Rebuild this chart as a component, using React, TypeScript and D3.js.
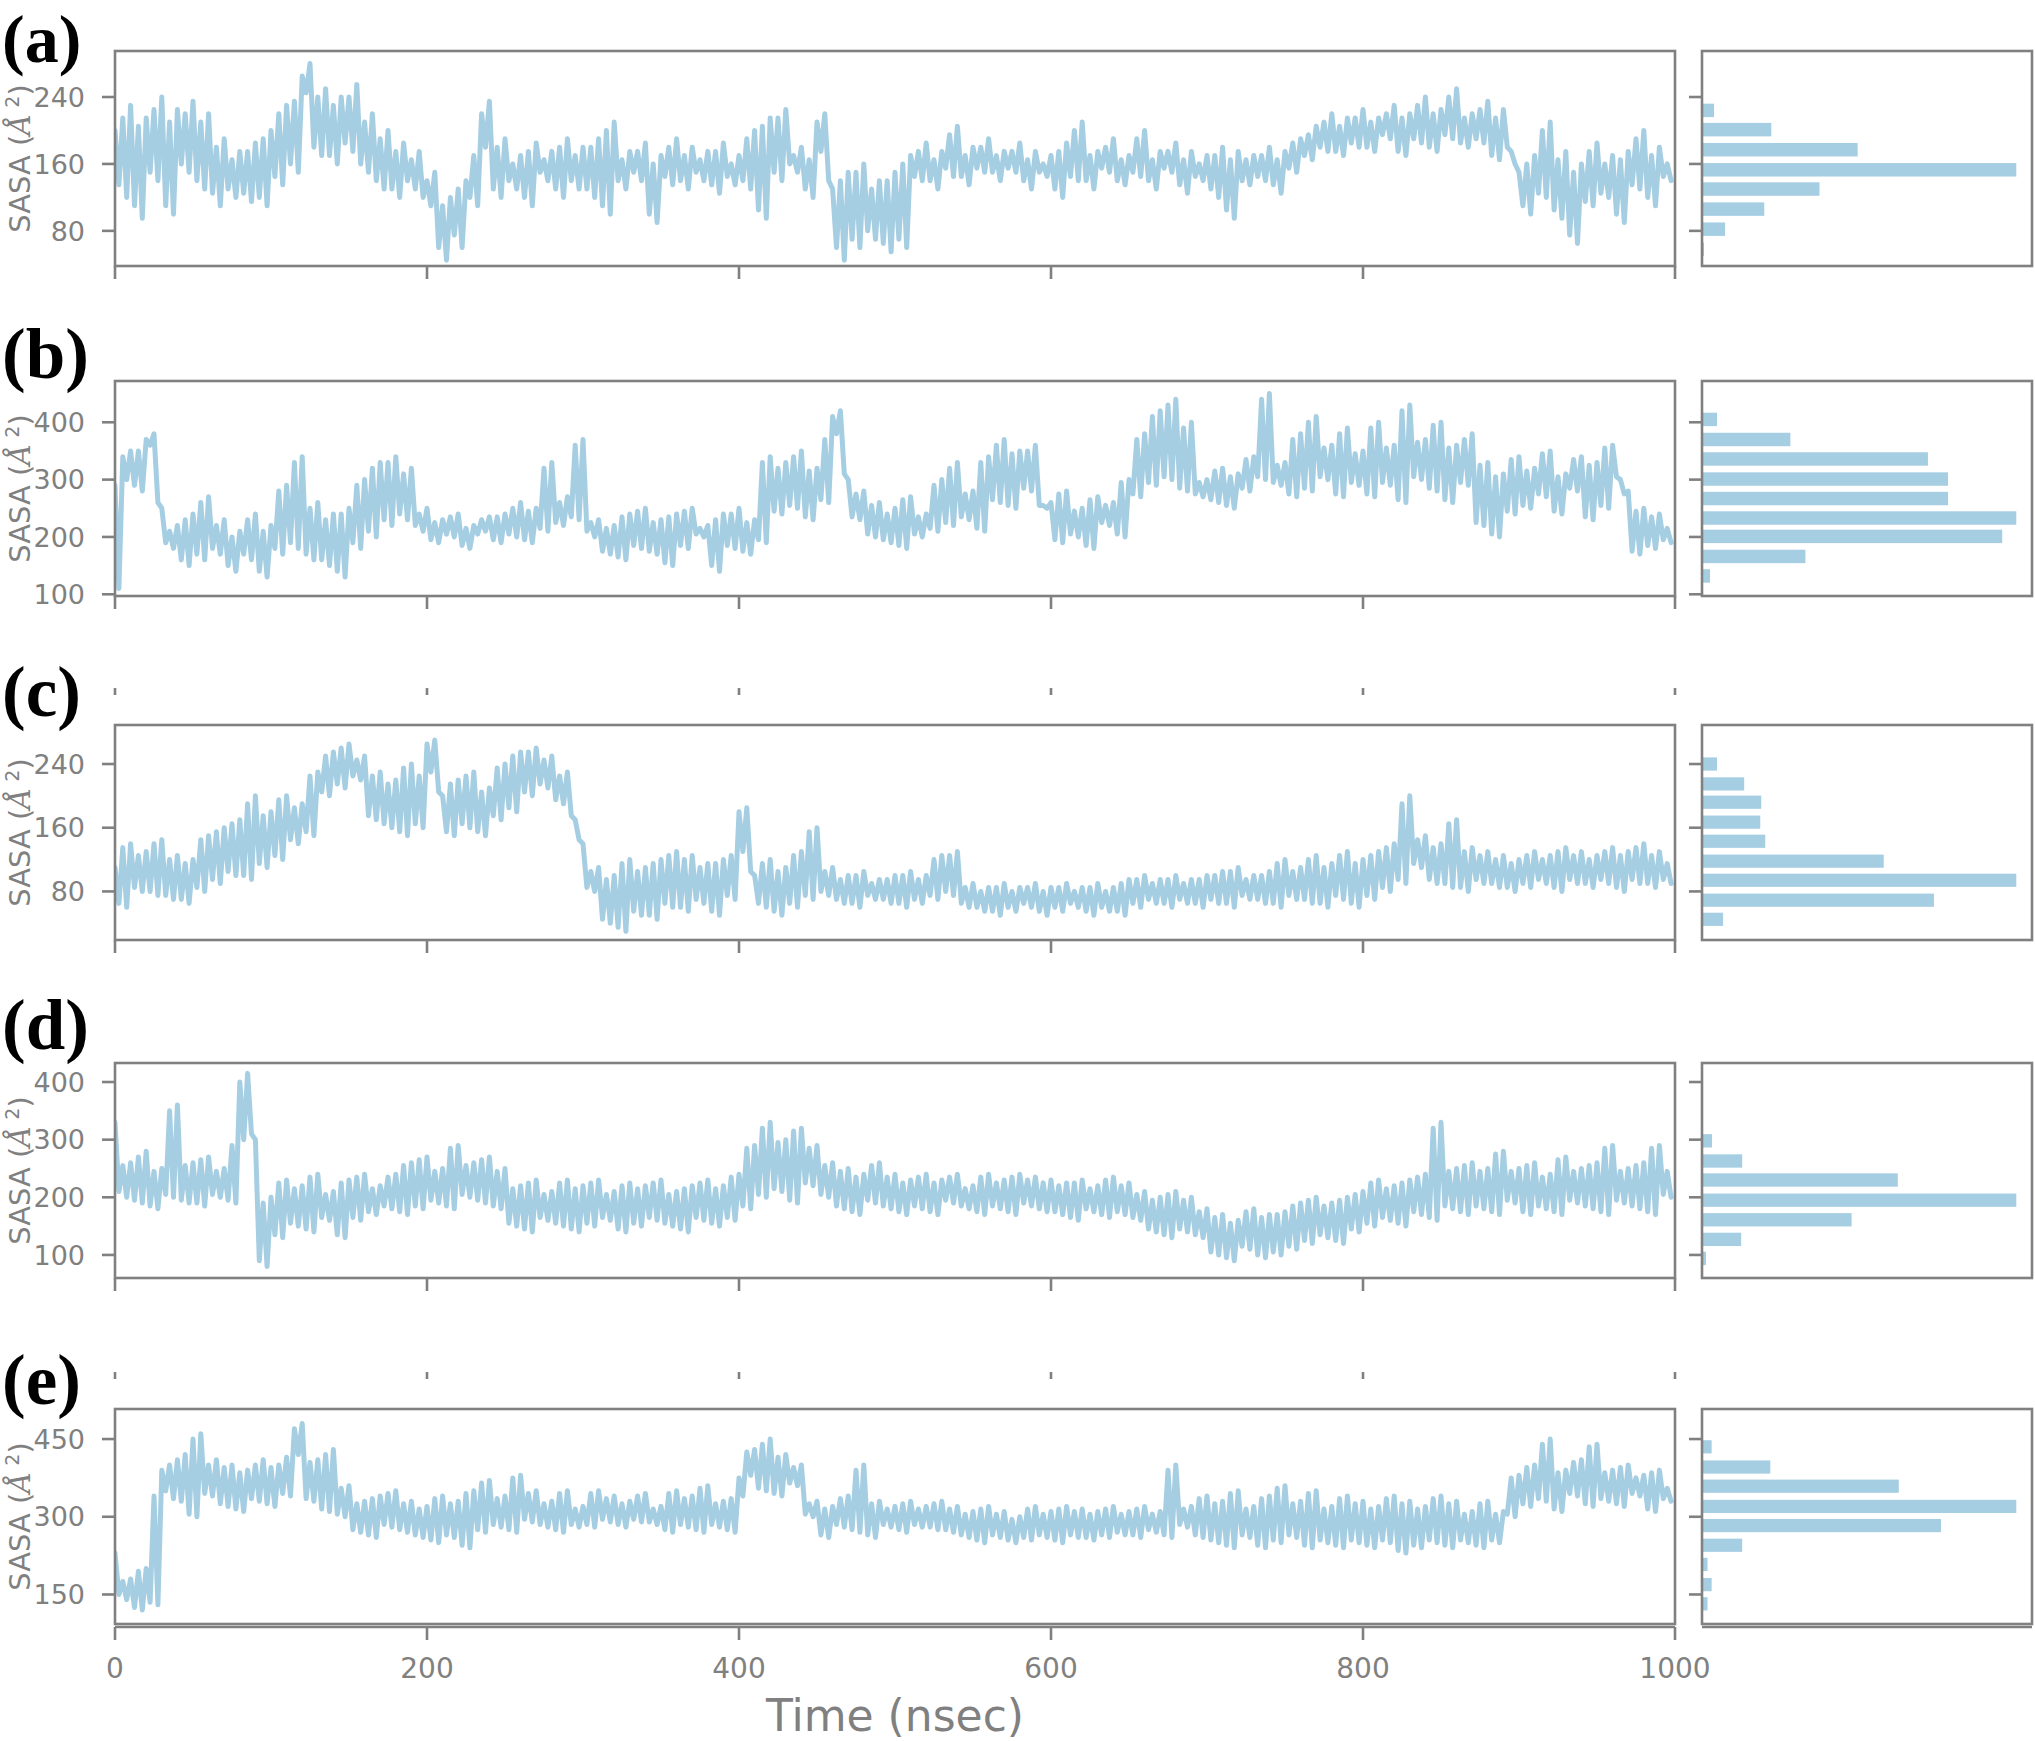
import React from "react";
import * as d3 from "d3";

// SASA traces. The MD trace is very dense, so each 5 ns
// window (0..1000 ns) is described by two readings: SASA_x and SASA_x_MID
// (one near the upper edge of the trace, one near the lower edge).
const WINDOW_NS = 5;

const SASA_A = [
  200, 120, 230, 95, 215, 140, 240, 100, 225, 150, 235, 130, 220, 110, 190, 120, 175, 115, 185, 110,
  200, 135, 230, 150, 245, 280, 170, 250, 160, 240, 175, 255, 150, 220, 130, 200, 120, 185, 130, 175,
  110, 150, 45, 120, 60, 140, 110, 180, 235, 120, 190, 130, 170, 110, 185, 140, 175, 120, 190, 130,
  180, 120, 190, 100, 210, 130, 175, 140, 185, 90, 170, 135, 190, 130, 180, 140, 175, 125, 185, 135,
  170, 130, 200, 95, 215, 140, 225, 150, 180, 120, 175, 220, 130, 45, 150, 60, 160, 70, 140, 55,
  150, 60, 170, 140, 185, 130, 175, 145, 205, 135, 180, 150, 190, 140, 175, 150, 185, 130, 175, 145,
  170, 120, 185, 140, 210, 130, 175, 150, 190, 135, 170, 145, 200, 130, 175, 150, 185, 125, 175, 140,
  170, 120, 180, 95, 175, 135, 170, 140, 180, 125, 175, 150, 190, 165, 205, 175, 220, 170, 215, 180,
  225, 175, 215, 190, 230, 170, 220, 185, 240, 175, 225, 190, 250, 180, 220, 185, 235, 165, 225, 175,
  150, 100, 170, 120, 210, 95, 175, 65, 160, 110, 185, 120, 170, 90, 175, 130, 200, 110, 180, 140,
];
const SASA_A_MID = [
  135, 215, 110, 205, 150, 225, 110, 210, 160, 220, 140, 210, 125, 180, 130, 165, 125, 175, 120, 190,
  145, 220, 160, 235, 265, 180, 240, 170, 230, 185, 240, 160, 210, 140, 190, 130, 175, 140, 165, 120,
  140, 60, 110, 75, 130, 120, 170, 220, 130, 180, 140, 160, 120, 175, 150, 165, 130, 180, 140, 170,
  130, 180, 110, 200, 140, 165, 150, 175, 100, 160, 145, 180, 140, 170, 150, 165, 135, 175, 145, 160,
  140, 190, 105, 205, 150, 215, 160, 170, 130, 165, 210, 140, 60, 140, 70, 150, 80, 130, 65, 140,
  70, 160, 145, 175, 140, 165, 155, 195, 145, 170, 155, 180, 150, 170, 155, 175, 140, 165, 150, 160,
  130, 175, 145, 200, 140, 170, 155, 180, 140, 165, 150, 190, 140, 165, 155, 175, 135, 165, 145, 160,
  130, 170, 105, 165, 140, 165, 145, 170, 135, 165, 155, 185, 170, 195, 180, 210, 175, 205, 185, 215,
  180, 210, 195, 220, 175, 215, 190, 230, 180, 220, 195, 240, 185, 215, 190, 225, 170, 215, 180, 160,
  110, 160, 125, 200, 105, 165, 75, 150, 115, 175, 125, 160, 100, 165, 135, 190, 120, 170, 145, 160,
];

const SASA_B = [
  110, 300, 350, 280, 360, 380, 250, 180, 220, 150, 240, 160, 270, 170, 230, 140, 210, 160, 240, 130,
  220, 170, 290, 180, 340, 160, 260, 150, 240, 130, 250, 180, 300, 200, 330, 220, 340, 230, 320, 210,
  250, 190, 230, 200, 240, 180, 220, 210, 235, 190, 240, 200, 260, 190, 250, 210, 330, 220, 270, 230,
  370, 200, 230, 170, 220, 160, 240, 180, 250, 170, 230, 150, 240, 180, 250, 200, 220, 140, 240, 180,
  250, 170, 230, 190, 340, 240, 330, 250, 350, 230, 320, 260, 380, 420, 300, 230, 280, 200, 260, 190,
  250, 180, 270, 200, 240, 210, 300, 220, 330, 230, 280, 210, 340, 260, 370, 250, 350, 280, 360, 250,
  260, 190, 280, 200, 250, 180, 270, 220, 260, 200, 300, 270, 380, 290, 420, 300, 440, 280, 400, 270,
  300, 260, 320, 250, 310, 280, 340, 300, 450, 290, 330, 270, 380, 280, 410, 300, 360, 270, 390, 290,
  350, 270, 400, 290, 360, 260, 430, 300, 370, 280, 400, 260, 360, 290, 380, 220, 330, 200, 310, 240,
  340, 250, 320, 270, 350, 240, 310, 280, 340, 230, 330, 250, 360, 300, 280, 170, 250, 180, 240, 190,
];
const SASA_B_MID = [
  290, 340, 290, 350, 370, 260, 190, 210, 160, 230, 170, 260, 180, 220, 150, 200, 170, 230, 140, 210,
  180, 280, 190, 330, 170, 250, 160, 230, 140, 240, 190, 290, 210, 320, 230, 330, 240, 310, 220, 240,
  195, 225, 205, 235, 185, 215, 205, 230, 195, 235, 205, 250, 195, 245, 215, 320, 225, 260, 235, 360,
  210, 225, 175, 215, 165, 235, 185, 245, 175, 225, 155, 235, 185, 245, 205, 215, 150, 230, 185, 240,
  175, 225, 195, 330, 245, 320, 255, 340, 235, 315, 265, 370, 410, 310, 235, 275, 205, 255, 195, 240,
  185, 265, 205, 235, 215, 290, 225, 320, 235, 275, 215, 330, 265, 360, 255, 345, 285, 350, 255, 255,
  195, 275, 205, 245, 185, 265, 225, 255, 205, 295, 275, 370, 295, 410, 305, 430, 285, 390, 275, 295,
  265, 315, 255, 305, 285, 335, 305, 440, 295, 325, 275, 370, 285, 400, 305, 355, 275, 380, 295, 345,
  275, 390, 295, 355, 265, 420, 305, 365, 285, 395, 265, 355, 295, 370, 225, 325, 205, 305, 245, 335,
  255, 315, 275, 345, 245, 305, 285, 335, 235, 325, 255, 355, 305, 275, 175, 245, 185, 235, 195, 215,
];

const SASA_C = [
  110, 60, 140, 80, 130, 75, 145, 70, 125, 65, 120, 80, 150, 90, 160, 100, 170, 95, 200, 110,
  180, 120, 200, 140, 190, 150, 230, 200, 255, 210, 265, 220, 250, 170, 230, 160, 220, 150, 240, 160,
  230, 270, 200, 150, 220, 160, 230, 150, 210, 170, 240, 180, 255, 200, 260, 210, 250, 190, 230, 170,
  140, 80, 110, 40, 100, 30, 120, 50, 110, 45, 120, 60, 130, 55, 125, 65, 115, 50, 120, 70,
  130, 185, 100, 60, 120, 50, 110, 60, 130, 70, 160, 75, 110, 65, 100, 60, 105, 70, 95, 65,
  100, 60, 105, 65, 100, 70, 125, 75, 130, 60, 90, 55, 85, 50, 90, 55, 85, 60, 90, 50,
  85, 55, 90, 60, 85, 50, 90, 55, 85, 50, 95, 60, 100, 65, 95, 60, 100, 65, 95, 60,
  100, 65, 105, 60, 110, 70, 100, 65, 105, 60, 120, 70, 110, 65, 125, 60, 115, 70, 130, 60,
  120, 70, 130, 80, 140, 90, 200, 110, 150, 90, 140, 85, 170, 80, 135, 90, 130, 85, 125, 80,
  120, 85, 130, 90, 125, 80, 135, 90, 130, 85, 125, 90, 135, 80, 130, 90, 140, 85, 130, 90,
];
const SASA_C_MID = [
  65, 135, 85, 125, 80, 140, 75, 120, 70, 115, 85, 145, 95, 155, 105, 165, 100, 190, 115, 175,
  125, 195, 145, 185, 155, 225, 205, 250, 215, 260, 225, 245, 175, 225, 165, 215, 155, 235, 165, 225,
  265, 205, 155, 215, 165, 225, 155, 205, 175, 235, 185, 250, 205, 255, 215, 245, 195, 225, 175, 145,
  85, 105, 45, 95, 35, 115, 55, 105, 50, 115, 65, 125, 60, 120, 70, 110, 55, 115, 75, 125,
  180, 105, 65, 115, 55, 105, 65, 125, 75, 155, 80, 105, 70, 95, 65, 100, 75, 90, 70, 95,
  65, 100, 70, 95, 75, 120, 80, 125, 65, 85, 60, 80, 55, 85, 60, 80, 65, 85, 55, 80,
  60, 85, 65, 80, 55, 85, 60, 80, 55, 90, 65, 95, 70, 90, 65, 95, 70, 90, 65, 95,
  70, 100, 65, 105, 75, 95, 70, 100, 65, 115, 75, 105, 70, 120, 65, 110, 75, 125, 65, 115,
  75, 125, 85, 135, 95, 190, 115, 145, 95, 135, 90, 165, 85, 130, 95, 125, 90, 120, 85, 115,
  90, 125, 95, 120, 85, 130, 95, 125, 90, 120, 95, 130, 85, 125, 95, 135, 90, 125, 95, 115,
];

const SASA_D = [
  330, 200, 260, 190, 280, 180, 250, 200, 360, 190, 260, 185, 270, 200, 250, 190, 300, 415, 300, 80,
  200, 130, 230, 150, 220, 140, 240, 160, 210, 130, 230, 160, 240, 170, 220, 180, 240, 170, 260, 180,
  270, 190, 250, 180, 290, 200, 260, 190, 270, 180, 250, 150, 220, 140, 230, 160, 210, 150, 230, 140,
  220, 150, 230, 160, 210, 140, 225, 150, 220, 160, 230, 150, 210, 140, 220, 160, 230, 150, 220, 160,
  240, 180, 290, 200, 330, 210, 300, 190, 320, 220, 290, 200, 260, 180, 250, 170, 240, 190, 260, 180,
  240, 170, 230, 180, 240, 170, 230, 190, 240, 180, 220, 170, 240, 180, 230, 170, 240, 185, 235, 175,
  230, 170, 225, 160, 230, 175, 220, 165, 235, 170, 225, 160, 210, 140, 200, 130, 210, 140, 200, 130,
  180, 100, 170, 90, 160, 110, 180, 95, 170, 100, 175, 110, 190, 120, 200, 130, 190, 120, 200, 140,
  210, 150, 230, 160, 220, 150, 230, 170, 240, 160, 330, 180, 250, 170, 260, 180, 250, 170, 280, 190,
  250, 170, 260, 180, 240, 170, 270, 190, 250, 180, 260, 170, 290, 190, 250, 180, 260, 170, 290, 200,
];
const SASA_D_MID = [
  210, 255, 195, 270, 185, 245, 205, 350, 195, 255, 190, 265, 205, 245, 195, 290, 400, 310, 90, 190,
  135, 225, 155, 215, 145, 235, 165, 205, 135, 225, 165, 235, 175, 215, 185, 235, 175, 255, 185, 265,
  195, 245, 185, 285, 205, 255, 195, 265, 185, 245, 155, 215, 145, 225, 165, 205, 155, 225, 145, 215,
  155, 225, 165, 205, 145, 220, 155, 215, 165, 225, 155, 205, 145, 215, 165, 225, 155, 215, 165, 235,
  185, 285, 205, 320, 215, 295, 195, 315, 225, 285, 205, 255, 185, 245, 175, 235, 195, 255, 185, 235,
  175, 225, 185, 235, 175, 225, 195, 235, 185, 215, 175, 235, 185, 225, 175, 235, 190, 230, 180, 225,
  175, 220, 165, 225, 180, 215, 170, 230, 175, 220, 165, 205, 145, 195, 135, 205, 145, 195, 135, 175,
  105, 165, 95, 155, 115, 175, 100, 165, 105, 170, 115, 185, 125, 195, 135, 185, 125, 195, 145, 205,
  155, 225, 165, 215, 155, 225, 175, 235, 165, 320, 185, 245, 175, 255, 185, 245, 175, 275, 195, 245,
  175, 255, 185, 235, 175, 265, 195, 245, 185, 255, 175, 285, 195, 245, 185, 255, 175, 285, 205, 245,
];

const SASA_E = [
  230, 140, 180, 120, 200, 130, 350, 400, 330, 420, 300, 460, 340, 410, 320, 400, 310, 390, 330, 410,
  320, 400, 340, 420, 480, 330, 410, 310, 430, 300, 360, 270, 330, 260, 340, 280, 350, 270, 330, 260,
  320, 250, 340, 260, 330, 240, 350, 270, 370, 280, 340, 270, 380, 290, 350, 280, 330, 270, 350, 280,
  320, 280, 350, 290, 340, 280, 330, 290, 345, 285, 320, 270, 350, 280, 340, 270, 360, 280, 330, 270,
  340, 380, 430, 350, 450, 340, 420, 360, 400, 300, 330, 260, 320, 280, 340, 270, 400, 260, 330, 280,
  320, 270, 330, 280, 320, 275, 330, 270, 320, 260, 310, 250, 320, 260, 310, 250, 300, 255, 320, 260,
  310, 250, 320, 260, 315, 255, 310, 260, 320, 265, 310, 260, 320, 270, 310, 260, 400, 280, 320, 260,
  340, 250, 330, 240, 350, 260, 320, 240, 340, 250, 360, 260, 330, 240, 350, 250, 320, 240, 340, 250,
  330, 240, 320, 250, 340, 230, 330, 240, 320, 250, 340, 240, 330, 250, 310, 240, 330, 250, 310, 300,
  380, 320, 400, 330, 450, 310, 390, 340, 410, 320, 440, 330, 390, 320, 400, 340, 380, 310, 390, 330,
];
const SASA_E_MID = [
  150, 175, 125, 195, 135, 340, 390, 335, 410, 305, 450, 345, 400, 325, 395, 315, 385, 335, 400, 325,
  395, 345, 415, 470, 335, 405, 315, 420, 305, 355, 275, 325, 265, 335, 285, 345, 275, 325, 265, 315,
  255, 335, 265, 325, 245, 345, 275, 365, 285, 335, 275, 375, 295, 345, 285, 325, 275, 345, 285, 315,
  285, 345, 295, 335, 285, 325, 295, 340, 290, 315, 275, 345, 285, 335, 275, 355, 285, 325, 275, 335,
  375, 425, 355, 440, 345, 415, 365, 395, 305, 325, 265, 315, 285, 335, 275, 390, 265, 325, 285, 315,
  275, 325, 285, 315, 280, 325, 275, 315, 265, 305, 255, 315, 265, 305, 255, 295, 260, 315, 265, 305,
  255, 315, 265, 310, 260, 305, 265, 315, 270, 305, 265, 315, 275, 305, 265, 390, 285, 315, 265, 335,
  255, 325, 245, 345, 265, 315, 245, 335, 255, 355, 265, 325, 245, 345, 255, 315, 245, 335, 255, 325,
  245, 315, 255, 335, 235, 325, 245, 315, 255, 335, 245, 325, 255, 305, 245, 325, 255, 305, 305, 375,
  325, 395, 335, 440, 315, 385, 345, 405, 325, 435, 335, 385, 325, 395, 345, 375, 315, 385, 335, 355,
];

// histograms (bin centres in SASA units, relative counts)
const HIST_A_CENTERS = [58, 82, 106, 130, 153, 177, 201, 224];
const HIST_A_COUNTS = [2, 23, 62, 117, 313, 155, 69, 12];
const HIST_B_CENTERS = [132, 166, 201, 233, 267, 301, 336, 370, 405];
const HIST_B_COUNTS = [8, 103, 299, 313, 245, 245, 225, 88, 15];
const HIST_C_CENTERS = [45, 69, 94, 118, 143, 167, 192, 215, 240];
const HIST_C_COUNTS = [21, 231, 313, 181, 63, 58, 59, 42, 15];
const HIST_D_CENTERS = [94, 127, 161, 195, 230, 263, 298];
const HIST_D_COUNTS = [4, 39, 149, 313, 195, 40, 10];
const HIST_E_CENTERS = [132, 169, 208, 245, 283, 320, 359, 396, 435];
const HIST_E_COUNTS = [5.5, 9.6, 5.5, 40, 238, 313, 196, 68, 9.6];

const X_TICKS = [0, 200, 400, 600, 800, 1000];
const Y_TICKS_A = [80, 160, 240];
const Y_TICKS_B = [100, 200, 300, 400];
const Y_TICKS_C = [80, 160, 240];
const Y_TICKS_D = [100, 200, 300, 400];
const Y_TICKS_E = [150, 300, 450];
const PANEL_LABELS = ["(a)", "(b)", "(c)", "(d)", "(e)"];

type Pt = { t: number; v: number };

// within each window the trace runs from its upper reading down to its lower one
const trace = (a: number[], m: number[]): Pt[] =>
  a.flatMap((v, i) => {
    const hi = Math.max(v, m[i]);
    const lo = Math.min(v, m[i]);
    return [
      { t: i * WINDOW_NS, v: hi },
      { t: i * WINDOW_NS + WINDOW_NS / 2, v: lo },
    ];
  });

const panels = [
  { values: trace(SASA_A, SASA_A_MID), domain: [38, 295], ticks: Y_TICKS_A, centers: HIST_A_CENTERS, counts: HIST_A_COUNTS, binW: 23.7 },
  { values: trace(SASA_B, SASA_B_MID), domain: [97, 472], ticks: Y_TICKS_B, centers: HIST_B_CENTERS, counts: HIST_B_COUNTS, binW: 34.5 },
  { values: trace(SASA_C, SASA_C_MID), domain: [19, 289], ticks: Y_TICKS_C, centers: HIST_C_CENTERS, counts: HIST_C_COUNTS, binW: 24.4 },
  { values: trace(SASA_D, SASA_D_MID), domain: [60, 433], ticks: Y_TICKS_D, centers: HIST_D_CENTERS, counts: HIST_D_COUNTS, binW: 34 },
  { values: trace(SASA_E, SASA_E_MID), domain: [93, 508], ticks: Y_TICKS_E, centers: HIST_E_CENTERS, counts: HIST_E_COUNTS, binW: 37.5 },
];

// layout
const W = 2035;
const H = 1741;
const LEFT = 115;
const RIGHT = 1675;
const HIST_L = 1702;
const HIST_R = 2032;
const PANEL_H = 215;
const TOPS = [51, 381, 725, 1063, 1409];
const LABEL_BASE = [62, 378, 716, 1049, 1404];
const GRAY = "#808080";
const BLUE = "#a6cee3";
const FONT = "DejaVu Sans, sans-serif";

const x = d3.scaleLinear().domain([0, 1000]).range([LEFT, RIGHT]);

function Panel({ idx }: { idx: number }) {
  const p = panels[idx];
  const top = TOPS[idx];
  const bottom = top + PANEL_H;
  const y = d3.scaleLinear().domain(p.domain).range([bottom, top]);
  const maxCount = d3.max(p.counts) as number;
  const hx = d3.scaleLinear().domain([0, maxCount * 1.05]).range([HIST_L, HIST_R]);
  const line = d3
    .line<Pt>()
    .x((d) => x(d.t))
    .y((d) => y(d.v));
  const isLast = idx === panels.length - 1;
  const ghost = idx === 2 || idx === 4;
  const barH = Math.abs(y(0) - y(p.binW * 0.68));
  const clipId = `clip-${idx}`;

  return (
    <g>
      <defs>
        <clipPath id={clipId}>
          <rect x={LEFT} y={top} width={RIGHT - LEFT} height={PANEL_H} />
        </clipPath>
      </defs>
      <text
        x={2}
        y={LABEL_BASE[idx]}
        fontFamily="Liberation Serif, Times New Roman, serif"
        fontWeight="bold"
        fontSize={idx === 0 ? 68 : 71}
        fill="#000"
      >
        {PANEL_LABELS[idx]}
      </text>

      {/* time series */}
      <path
        d={line(p.values) ?? ""}
        fill="none"
        stroke={BLUE}
        strokeWidth={5}
        strokeLinejoin="round"
        strokeLinecap="round"
        clipPath={`url(#${clipId})`}
      />

      {/* histogram */}
      {p.centers.map((c, k) =>
        p.counts[k] > 0 ? (
          <rect
            key={k}
            x={HIST_L}
            y={y(c) - barH / 2}
            width={hx(p.counts[k]) - HIST_L}
            height={barH}
            fill={BLUE}
          />
        ) : null
      )}

      {/* frames */}
      <rect x={LEFT} y={top} width={RIGHT - LEFT} height={PANEL_H} fill="none" stroke={GRAY} strokeWidth={2.6} />
      <rect x={HIST_L} y={top} width={HIST_R - HIST_L} height={PANEL_H} fill="none" stroke={GRAY} strokeWidth={2.6} />
      {isLast && (
        <g stroke={GRAY} strokeWidth={2.6}>
          <line x1={LEFT} x2={RIGHT} y1={bottom + 3} y2={bottom + 3} />
          <line x1={HIST_L} x2={HIST_R} y1={bottom + 3} y2={bottom + 3} />
        </g>
      )}

      {/* y ticks */}
      {p.ticks.map((t) => (
        <g key={t}>
          <line x1={LEFT - 13} x2={LEFT} y1={y(t)} y2={y(t)} stroke={GRAY} strokeWidth={2.6} />
          <line x1={HIST_L - 13} x2={HIST_L} y1={y(t)} y2={y(t)} stroke={GRAY} strokeWidth={2.6} />
          <text
            x={85}
            y={y(t)}
            dy="0.36em"
            textAnchor="end"
            fontFamily={FONT}
            fontSize={27}
            fill={GRAY}
          >
            {t}
          </text>
        </g>
      ))}

      {/* x ticks */}
      {X_TICKS.map((t) => (
        <g key={t}>
          <line
            x1={x(t)}
            x2={x(t)}
            y1={bottom + (isLast ? 3 : 0)}
            y2={bottom + (isLast ? 16 : 13)}
            stroke={GRAY}
            strokeWidth={2.6}
          />
          {ghost && (
            <line x1={x(t)} x2={x(t)} y1={top - 37} y2={top - 30} stroke={GRAY} strokeWidth={2.6} />
          )}
          {isLast && (
            <text x={x(t)} y={1678} textAnchor="middle" fontFamily={FONT} fontSize={28} fill={GRAY}>
              {t}
            </text>
          )}
        </g>
      ))}

      {/* y label */}
      <text
        transform={`translate(30,${(top + bottom) / 2}) rotate(-90)`}
        textAnchor="middle"
        fontFamily={FONT}
        fontSize={29}
        fill={GRAY}
      >
        SASA (
        <tspan fontStyle="italic" fontFamily="DejaVu Serif, serif">Å</tspan>
        <tspan dy={-11} fontSize={19}> 2</tspan>
        <tspan dy={11}>)</tspan>
      </text>
    </g>
  );
}

export default function App() {
  return (
    <svg
      width={W}
      height={H}
      viewBox={`0 0 ${W} ${H}`}
      style={{ position: "absolute", left: 0, top: 0, background: "#fff" }}
    >
      <rect width={W} height={H} fill="#fff" />
      {panels.map((_, i) => (
        <Panel key={i} idx={i} />
      ))}
      <text
        x={(LEFT + RIGHT) / 2}
        y={1731}
        textAnchor="middle"
        fontFamily={FONT}
        fontSize={44}
        fill={GRAY}
      >
        Time (nsec)
      </text>
    </svg>
  );
}
